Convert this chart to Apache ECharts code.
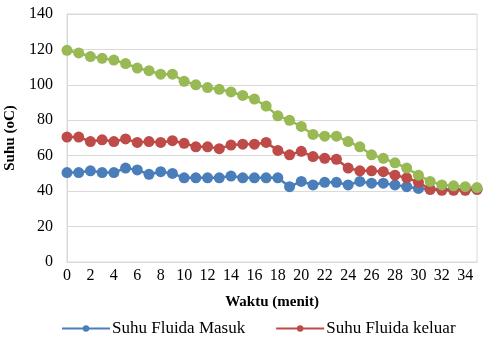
<!DOCTYPE html>
<html>
<head>
<meta charset="utf-8">
<script src="https://cdn.jsdelivr.net/npm/echarts@6/dist/echarts.min.js"></script>
<style>
  html, body {margin: 0; padding: 0; background: #fff;}
  #chart {width: 483px; height: 343px;}
</style>
</head>
<body>
<div id="chart"></div>
<script>
// menit 0..35
const waktu = []
for (let i = 0; i <= 35; i++) waktu.push(String(i))

const suhuMasuk = [
  50.5, 50.5, 51.5, 50.5, 50.5, 53, 52, 49.5, 51, 50,
  47.5, 47.5, 47.5, 47.5, 48.5, 47.5, 47.5, 47.5, 47.5, 42.5,
  45.5, 43.5, 45, 45, 43.5, 45.5, 44.5, 44.5, 43.5, 42.5,
  41.5, 41, 41, 41, 41, 41,
]
const suhuKeluar = [
  70.5, 70.5, 68, 69, 68, 69.5, 67.5, 68, 67.5, 68.5,
  67, 65, 65, 64, 66, 66.5, 66.5, 67.5, 63, 60.5,
  62.5, 59.5, 58.5, 58, 53, 51.5, 51.5, 51, 49, 47.5,
  45, 41, 40.5, 40.5, 40.5, 41,
]
const suhuPanas = [
  119.5, 118, 116, 115, 114, 112, 109.5, 108, 106, 106,
  102, 100, 98.5, 97.5, 96, 94, 92, 88, 82.5, 80,
  76.5, 72, 71, 71, 68, 65, 60.5, 58.5, 56, 53,
  49, 45.5, 43.5, 43, 42.5, 42,
]

const serif = 'Liberation Serif'

const mkSeries = (name, data, color) => ({
  name,
  type: 'line',
  data,
  symbol: 'circle',
  symbolSize: 11,
  showAllSymbol: true,
  lineStyle: {width: 2.5, color},
  itemStyle: {color},
  emphasis: {disabled: true},
})

const chart = echarts.init(document.getElementById('chart'))
chart.setOption({
  animation: false,
  textStyle: {fontFamily: serif},
  grid: {
    left: 67, right: 6, top: 14, bottom: 81,
    outerBoundsMode: 'none',
    show: true, borderColor: '#d9d9d9', borderWidth: 1,
  },
  legend: {
    bottom: 1,
    left: 56,
    itemWidth: 48,
    itemHeight: 8,
    itemGap: 30,
    data: ['Suhu Fluida Masuk', 'Suhu Fluida keluar'],
    textStyle: {fontFamily: serif, fontSize: 17, color: '#000', padding: [0, 0, 0, -3]},
  },
  xAxis: {
    type: 'category',
    data: waktu,
    boundaryGap: false,
    name: 'Waktu (menit)',
    nameLocation: 'middle',
    nameGap: 33,
    nameTextStyle: {fontFamily: serif, fontSize: 15, fontWeight: 'bold', color: '#000'},
    axisLine: {lineStyle: {color: '#d9d9d9'}},
    axisTick: {show: false},
    axisLabel: {interval: 1, fontFamily: serif, fontSize: 16, color: '#000', margin: 6},
  },
  yAxis: {
    type: 'value',
    min: 0,
    max: 140,
    interval: 20,
    name: 'Suhu (oC)',
    nameLocation: 'middle',
    nameGap: 46,
    nameTextStyle: {fontFamily: serif, fontSize: 15, fontWeight: 'bold', color: '#000'},
    axisLine: {show: true, lineStyle: {color: '#d9d9d9'}},
    axisTick: {show: false},
    axisLabel: {fontFamily: serif, fontSize: 16, color: '#000', margin: 14},
    splitLine: {lineStyle: {color: '#d9d9d9'}},
  },
  series: [
    mkSeries('Suhu Fluida Masuk', suhuMasuk, '#4a7ebb'),
    mkSeries('Suhu Fluida keluar', suhuKeluar, '#be4b48'),
    mkSeries('Suhu Fluida Panas', suhuPanas, '#98b954'),
  ],
})
</script>
</body>
</html>
